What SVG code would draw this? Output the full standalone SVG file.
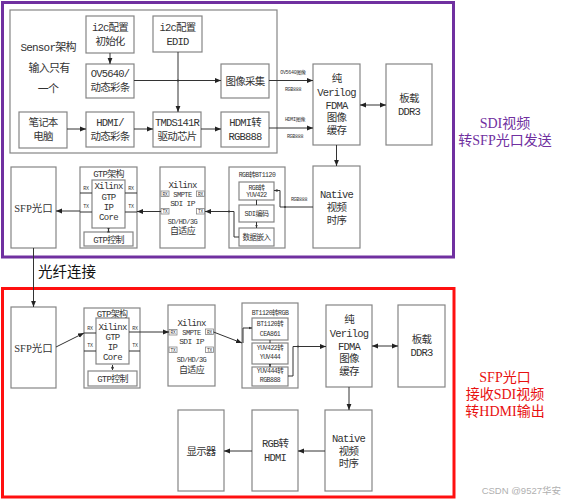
<svg xmlns="http://www.w3.org/2000/svg" width="566" height="500" viewBox="0 0 566 500">
<defs>
<style>
.box{fill:#fff;stroke:#858585;stroke-width:1.2}
.sb{fill:#fff;stroke:#858585;stroke-width:0.8}
.ln{fill:none;stroke:#333;stroke-width:1}
.t{font-family:"Liberation Mono","Noto Sans CJK SC",monospace;font-size:10.5px;letter-spacing:-0.8px;fill:#333;text-anchor:middle}
.s{font-family:"Liberation Mono","Noto Sans CJK SC",monospace;font-size:9px;letter-spacing:-0.7px;fill:#333;text-anchor:middle}
.xs{font-family:"Liberation Mono","Noto Sans CJK SC",monospace;font-size:6.5px;letter-spacing:-0.5px;fill:#333;text-anchor:middle}
.xxs{font-family:"Liberation Mono","Noto Sans CJK SC",monospace;font-size:5px;letter-spacing:-0.3px;fill:#333;text-anchor:middle}
.sfp{font-family:"Liberation Serif","Noto Sans CJK SC",serif;font-size:10.5px;fill:#333;text-anchor:middle}
.pt{font-family:"Liberation Serif","Noto Sans CJK SC",serif;font-size:14px;fill:#7030A0;text-anchor:middle}
.rt{font-family:"Liberation Serif","Noto Sans CJK SC",serif;font-size:14px;fill:#e81010;text-anchor:middle}
</style>
<marker id="ah" viewBox="0 0 10 10" refX="10" refY="5" markerWidth="6" markerHeight="6" markerUnits="userSpaceOnUse" orient="auto-start-reverse"><path d="M0,1 L10,5 L0,9 z" fill="#222"/></marker>
<marker id="as" viewBox="0 0 10 10" refX="10" refY="5" markerWidth="3.5" markerHeight="3.5" markerUnits="userSpaceOnUse" orient="auto-start-reverse"><path d="M0,1 L10,5 L0,9 z" fill="#333"/></marker>
</defs>
<rect width="566" height="500" fill="#fff"/>

<!-- frames -->
<g id="frames">
<rect x="2.5" y="2.5" width="451" height="254.5" fill="none" stroke="#7030A0" stroke-width="3"/>
<rect x="10" y="10" width="267" height="143" fill="none" stroke="#858585" stroke-width="1.2"/>
<rect x="2.5" y="288.5" width="451.5" height="208.5" fill="none" stroke="#ff1010" stroke-width="3"/>
</g>

<!-- top section nodes -->
<g id="sensor-note">
<text class="t" x="48" y="51" style="font-size:11px">Sensor架构</text>
<text class="t" x="49" y="72" style="font-size:11px">输入只有</text>
<text class="t" x="48" y="93" style="font-size:11px">一个</text>
</g>
<g id="n-i2c-init"><rect class="box" x="86" y="16" width="48" height="37"/><text class="t" x="110" y="31">i2c配置</text><text class="t" x="110" y="45">初始化</text></g>
<g id="n-i2c-edid"><rect class="box" x="153" y="16" width="49" height="36"/><text class="t" x="177.5" y="31">i2c配置</text><text class="t" x="177.5" y="45">EDID</text></g>
<g id="n-ov5640"><rect class="box" x="86" y="64" width="48" height="34"/><text class="t" x="110" y="77">OV5640/</text><text class="t" x="110" y="91">动态彩条</text></g>
<g id="n-laptop"><rect class="box" x="19" y="112" width="48" height="36"/><text class="t" x="43" y="126">笔记本</text><text class="t" x="43" y="140">电脑</text></g>
<g id="n-hdmi-src"><rect class="box" x="86" y="112" width="48" height="35"/><text class="t" x="110" y="126">HDMI/</text><text class="t" x="110" y="140">动态彩条</text></g>
<g id="n-tmds"><rect class="box" x="153" y="112" width="48" height="35"/><text class="t" x="177" y="126">TMDS141R</text><text class="t" x="177" y="140">驱动芯片</text></g>
<g id="n-capture"><rect class="box" x="221" y="64" width="48" height="34"/><text class="t" x="245" y="85">图像采集</text></g>
<g id="n-hdmi2rgb"><rect class="box" x="221" y="112" width="48" height="35"/><text class="t" x="245" y="126">HDMI转</text><text class="t" x="245" y="140">RGB888</text></g>
<g id="n-fdma-tx"><rect class="box" x="313" y="64" width="47" height="81"/><text class="t" x="336.5" y="82">纯</text><text class="t" x="336.5" y="96">Verilog</text><text class="t" x="336.5" y="109">FDMA</text><text class="t" x="336.5" y="121">图像</text><text class="t" x="336.5" y="134">缓存</text></g>
<g id="n-ddr-tx"><rect class="box" x="386" y="64" width="46" height="81"/><text class="t" x="409" y="102">板载</text><text class="t" x="409" y="115">DDR3</text></g>
<g id="n-native-tx"><rect class="box" x="313" y="166" width="47" height="82"/><text class="t" x="336.5" y="198">Native</text><text class="t" x="336.5" y="211">视频</text><text class="t" x="336.5" y="224">时序</text></g>
<g id="n-sfp-tx"><rect class="box" x="11" y="167" width="45" height="81"/><text class="sfp" x="33.5" y="212">SFP光口</text></g>
<g id="n-gtp-tx">
<rect class="box" x="80" y="167" width="57" height="81"/>
<text class="s" x="108.5" y="177">GTP架构</text>
<rect class="box" x="92" y="180" width="33" height="48"/>
<text class="s" x="108.5" y="189">Xilinx</text><text class="s" x="108.5" y="200">GTP</text><text class="s" x="108.5" y="210">IP</text><text class="s" x="108.5" y="220">Core</text>
<text class="xxs" x="86" y="190">RX</text><text class="xxs" x="86" y="208">TX</text>
<text class="xxs" x="131" y="190">RX</text><text class="xxs" x="131" y="208">TX</text>
<path class="ln" d="M80,193 H92 M80,212 H92 M125,193 H137 M125,212 H137" stroke-width="0.7"/>
<rect class="box" x="84" y="232" width="49" height="14"/>
<text class="s" x="108.5" y="242.5">GTP控制</text>
<path class="ln" d="M108.5,229 V231" marker-start="url(#as)" marker-end="url(#as)" stroke-width="0.7"/>
</g>
<g id="n-sdi-tx">
<rect class="box" x="160" y="167" width="45" height="81"/>
<text class="s" x="182.5" y="188">Xilinx</text>
<text class="xs" x="182.5" y="196.5" style="font-size:7px">SMPTE</text>
<text class="s" x="182.5" y="206" style="font-size:8px">SDI IP</text>
<text class="xs" x="182.5" y="224" style="font-size:7px">SD/HD/3G</text>
<text class="s" x="182.5" y="234">自适应</text>
<rect class="sb" x="161" y="191" width="8" height="5.5"/><text class="xxs" x="165" y="195.5" style="font-size:4.5px">RX</text>
<rect class="sb" x="161" y="208.5" width="8" height="5.5"/><text class="xxs" x="165" y="213" style="font-size:4.5px">TX</text>
<rect class="sb" x="196.5" y="191" width="8" height="5.5"/><text class="xxs" x="200.5" y="195.5" style="font-size:4.5px">RX</text>
<rect class="sb" x="196.5" y="208.5" width="8" height="5.5"/><text class="xxs" x="200.5" y="213" style="font-size:4.5px">TX</text>
</g>
<g id="n-rgb2bt1120">
<rect class="box" x="229" y="167" width="56" height="81"/>
<text class="xs" x="257" y="177">RGB转BT1120</text>
<rect class="box" x="239" y="182" width="35" height="18"/><text class="xs" x="256.5" y="189.5">RGB转</text><text class="xs" x="256.5" y="197">YUV422</text>
<rect class="box" x="239" y="205" width="35" height="17"/><text class="xs" x="256.5" y="216" style="font-size:7px">SDI编码</text>
<rect class="box" x="239" y="228" width="35" height="18"/><text class="xs" x="256.5" y="240" style="font-size:7.5px">数据嵌入</text>
<path class="ln" d="M256.5,200 V205 M256.5,222 V228" marker-end="url(#as)" stroke-width="0.7"/>
</g>

<!-- bottom section nodes -->
<g id="n-sfp-rx"><rect class="box" x="11" y="307" width="45" height="81"/><text class="sfp" x="33.5" y="352">SFP光口</text></g>
<g id="n-gtp-rx">
<rect class="box" x="84" y="308" width="56" height="80"/>
<text class="s" x="112" y="316.5">GTP架构</text>
<rect class="box" x="96" y="318" width="33" height="46"/>
<text class="s" x="112.5" y="330">Xilinx</text><text class="s" x="112.5" y="340">GTP</text><text class="s" x="112.5" y="350">IP</text><text class="s" x="112.5" y="360">Core</text>
<text class="xxs" x="90" y="330">RX</text><text class="xxs" x="90" y="347">TX</text>
<text class="xxs" x="135" y="330">RX</text><text class="xxs" x="135" y="347">TX</text>
<path class="ln" d="M84,333 H96 M84,351 H96 M129,332 H140 M129,351 H140" stroke-width="0.7"/>
<rect class="box" x="88" y="371" width="49" height="15"/>
<text class="s" x="112.5" y="382">GTP控制</text>
<path class="ln" d="M112.5,365 V370" marker-start="url(#as)" marker-end="url(#as)" stroke-width="0.7"/>
</g>
<g id="n-sdi-rx">
<rect class="box" x="168" y="305" width="47" height="81"/>
<text class="s" x="191.5" y="326">Xilinx</text>
<text class="xs" x="191.5" y="334.5" style="font-size:7px">SMPTE</text>
<text class="s" x="191.5" y="344" style="font-size:8px">SDI IP</text>
<text class="xs" x="191.5" y="362" style="font-size:7px">SD/HD/3G</text>
<text class="s" x="191.5" y="373">自适应</text>
<rect class="sb" x="169" y="329.5" width="8" height="5.5"/><text class="xxs" x="173" y="334" style="font-size:4.5px">RX</text>
<rect class="sb" x="169" y="347" width="8" height="5.5"/><text class="xxs" x="173" y="351.5" style="font-size:4.5px">TX</text>
<rect class="sb" x="205.5" y="329" width="8" height="5.5"/><text class="xxs" x="209.5" y="333.5" style="font-size:4.5px">RX</text>
<rect class="sb" x="205.5" y="347" width="8" height="5.5"/><text class="xxs" x="209.5" y="351.5" style="font-size:4.5px">TX</text>
</g>
<g id="n-bt11202rgb">
<rect class="box" x="242" y="303" width="56" height="85"/>
<text class="xs" x="270" y="315">BT1120转RGB</text>
<rect class="box" x="252" y="318" width="36" height="22"/><text class="xs" x="270" y="326">BT1120转</text><text class="xs" x="270" y="336">CEA861</text>
<rect class="box" x="252" y="343" width="36" height="21"/><text class="xs" x="270" y="350">YUV422转</text><text class="xs" x="270" y="359">YUV444</text>
<rect class="box" x="252" y="367" width="36" height="19"/><text class="xs" x="270" y="373">YUV444转</text><text class="xs" x="270" y="382">RGB888</text>
<path class="ln" d="M270,340 V343 M270,364 V367" marker-end="url(#as)" stroke-width="0.7"/>
</g>
<g id="n-fdma-rx"><rect class="box" x="326" y="305" width="46" height="82"/><text class="t" x="349" y="323">纯</text><text class="t" x="349" y="337">Verilog</text><text class="t" x="349" y="350">FDMA</text><text class="t" x="349" y="362">图像</text><text class="t" x="349" y="375">缓存</text></g>
<g id="n-ddr-rx"><rect class="box" x="398" y="305" width="47" height="82"/><text class="t" x="421.5" y="343">板载</text><text class="t" x="421.5" y="356">DDR3</text></g>
<g id="n-native-rx"><rect class="box" x="325" y="410" width="47" height="81"/><text class="t" x="348.5" y="442">Native</text><text class="t" x="348.5" y="455">视频</text><text class="t" x="348.5" y="467">时序</text></g>
<g id="n-rgb2hdmi"><rect class="box" x="252" y="410" width="46" height="81"/><text class="t" x="275" y="447">RGB转</text><text class="t" x="275" y="461">HDMI</text></g>
<g id="n-display"><rect class="box" x="178" y="410" width="46" height="81"/><text class="t" x="201" y="455">显示器</text></g>

<!-- connectors -->
<g id="connectors">
<path class="ln" d="M110,53 V64" marker-end="url(#ah)"/>
<path class="ln" d="M178,52 V112" marker-end="url(#ah)"/>
<path class="ln" d="M134,80.5 H221" marker-end="url(#ah)"/>
<circle cx="178" cy="80.5" r="1" fill="#333"/>
<path class="ln" d="M67,129 H86" marker-end="url(#ah)"/>
<path class="ln" d="M134,129 H153" marker-end="url(#ah)"/>
<path class="ln" d="M201,129 H221" marker-end="url(#ah)"/>
<path class="ln" d="M269,80.5 H313" marker-end="url(#ah)"/>
<text class="xxs" x="293" y="74">OV5640图像</text><text class="xxs" x="293" y="91">RGB888</text>
<path class="ln" d="M269,128 H313" marker-end="url(#ah)"/>
<text class="xxs" x="295" y="121">HDMI图像</text><text class="xxs" x="295" y="138">RGB888</text>
<path class="ln" d="M360,105 H386" marker-start="url(#ah)" marker-end="url(#ah)"/>
<path class="ln" d="M336.5,145 V166" marker-end="url(#ah)"/>
<path class="ln" d="M313,207 H280 V190.5 H274" marker-end="url(#as)"/>
<circle cx="285" cy="207" r="0.9" fill="#333"/>
<text class="xxs" x="299" y="201">RGB888</text>
<path class="ln" d="M239,237 H234 V211.5 H205" marker-end="url(#ah)"/>
<circle cx="229" cy="211.5" r="0.9" fill="#333"/>
<path class="ln" d="M161,211.5 H137" marker-end="url(#ah)"/>
<path class="ln" d="M80,211 H56" marker-end="url(#ah)"/>
<path class="ln" d="M33.5,248 V307" stroke="#111" stroke-width="2" marker-end="url(#ah)"/>
<path class="ln" d="M56,347 L84,333" marker-end="url(#ah)"/>
<path class="ln" d="M140,332 H169" marker-end="url(#ah)"/>
<path class="ln" d="M213.5,332 L242,343" marker-end="url(#ah)"/>
<path class="ln" d="M243,343 V328 H252" marker-end="url(#as)"/>
<path class="ln" d="M288,376 H293 V346.5 H326" marker-end="url(#ah)"/>
<circle cx="298" cy="346.5" r="0.9" fill="#333"/>
<path class="ln" d="M372,346 H398" marker-start="url(#ah)" marker-end="url(#ah)"/>
<path class="ln" d="M349,387 V410" marker-end="url(#ah)"/>
<path class="ln" d="M325,451 H298" marker-end="url(#ah)"/>
<path class="ln" d="M252,451 H224" marker-end="url(#ah)"/>
</g>

<!-- labels -->
<g id="labels">
<text x="38" y="277" style="font-family:'Noto Sans CJK SC',sans-serif;font-size:14.5px;fill:#111">光纤连接</text>
<text class="pt" x="505" y="128">SDI视频</text>
<text class="pt" x="505" y="145">转SFP光口发送</text>
<text class="rt" x="505" y="382">SFP光口</text>
<text class="rt" x="505" y="399">接收SDI视频</text>
<text class="rt" x="505" y="416">转HDMI输出</text>
<text x="561" y="494" text-anchor="end" style="font-family:'Liberation Sans','Noto Sans CJK SC',sans-serif;font-size:9.5px;fill:#b0b0b0">CSDN @9527华安</text>
</g>
</svg>
